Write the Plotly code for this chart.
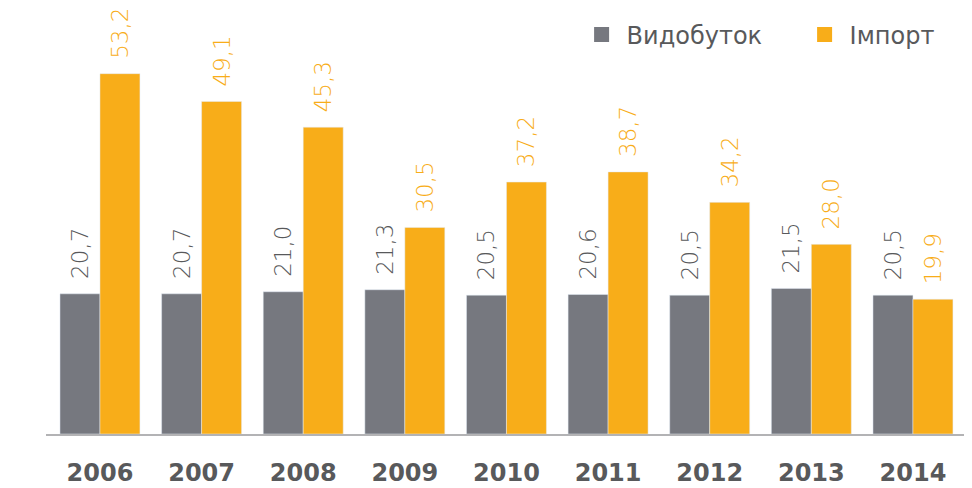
import plotly.graph_objects as go

years = ["2006", "2007", "2008", "2009", "2010", "2011", "2012", "2013", "2014"]
production = [20.7, 20.7, 21.0, 21.3, 20.5, 20.6, 20.5, 21.5, 20.5]
imports = [53.2, 49.1, 45.3, 30.5, 37.2, 38.7, 34.2, 28.0, 19.9]
series_names = ["Видобуток", "Імпорт"]

GREY = "#76787f"
ORANGE = "#f8ad19"
TEXT_GREY = "#58595b"
FONT = "DejaVu Sans"

# leading spaces push the rotated labels a bit further off the bar tops
label_tpl = "\u00a0\u2009%{y:.1f}"

fig = go.Figure()
for name, vals, col, tcol in [(series_names[0], production, GREY, TEXT_GREY),
                              (series_names[1], imports, ORANGE, ORANGE)]:
    fig.add_trace(go.Bar(
        x=years, y=vals, name=name, showlegend=False,
        marker_color=col,
        texttemplate=label_tpl, textposition="outside", textangle=-90,
        constraintext="none",
        textfont=dict(color=tcol, size=23, family=FONT, weight=300),
        cliponaxis=False,
    ))
    # legend-only entry with a bigger square swatch
    fig.add_trace(go.Scatter(
        x=[None], y=[None], name=name, mode="markers",
        marker=dict(symbol="square", size=15, color=col),
    ))

fig.update_layout(
    width=972, height=488,
    barmode="group", bargap=0.213, bargroupgap=0,
    separators=", ",
    plot_bgcolor="white", paper_bgcolor="white",
    font=dict(family=FONT, color=TEXT_GREY, size=24),
    margin=dict(t=2, b=62, l=38, r=8, autoexpand=False),
    legend=dict(
        orientation="h", xanchor="left", x=0.573, yanchor="middle", y=0.941,
        font=dict(size=24, color=TEXT_GREY, family=FONT),
        itemwidth=40, entrywidth=168, itemsizing="trace",
        bgcolor="rgba(0,0,0,0)",
    ),
    uniformtext=dict(mode=False),
)
fig.update_xaxes(
    range=[-0.531, 8.581],
    showline=True, linecolor="#b3b3b5", linewidth=2,
    ticks="", showgrid=False, ticklabelstandoff=16,
    tickfont=dict(size=24, color=TEXT_GREY, family=FONT, weight="bold"),
)
fig.update_yaxes(
    range=[0, 62.6], visible=False, showgrid=False,
)

fig.write_html("out.html")
